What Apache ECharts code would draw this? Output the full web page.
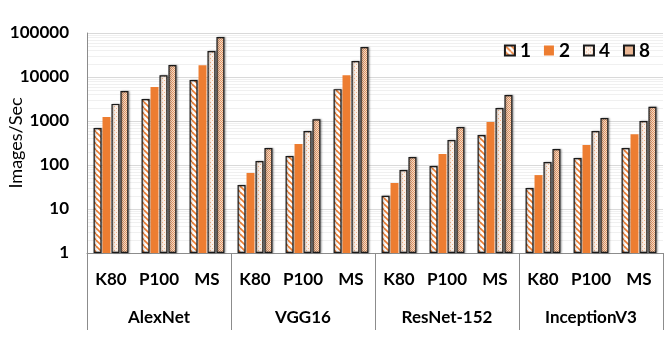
<!DOCTYPE html>
<html>
<head>
<meta charset="utf-8">
<script src="https://cdn.jsdelivr.net/npm/echarts@6/dist/echarts.min.js"></script>
<style>
  html, body { margin: 0; padding: 0; background: #fff; }
  #chart { width: 664px; height: 354px; }
</style>
</head>
<body>
<div id="chart"></div>
<script>
const gpus = ['K80', 'P100', 'MS']
const models = ['AlexNet', 'VGG16', 'ResNet-152', 'InceptionV3']
const seriesNames = ['1', '2', '4', '8']

// images/sec, one entry per (model, gpu) in order
const s1 = [690, 3150, 8500, 35, 160, 5300, 20, 95, 480, 30, 144, 243]
const s2 = [1230, 5900, 18500, 66, 300, 11000, 39, 178, 950, 59, 285, 500]
const s4 = [2450, 11000, 39000, 123, 590, 23000, 77, 370, 1980, 117, 590, 1000]
const s8 = [4800, 18700, 81000, 243, 1100, 48000, 152, 730, 3900, 230, 1170, 2100]

const yTicks = [1, 10, 100, 1000, 10000, 100000]

const categories = []
models.forEach(() => gpus.forEach(g => categories.push(g)))

const orange = '#ED7D31'

function makePattern(size, draw) {
  const c = document.createElement('canvas')
  c.width = size
  c.height = size
  draw(c.getContext('2d'), size)
  return { image: c, repeat: 'repeat' }
}

const hatch = makePattern(6, (ctx, n) => {
  ctx.fillStyle = '#fff'
  ctx.fillRect(0, 0, n, n)
  ctx.strokeStyle = orange
  ctx.lineWidth = 1.6
  ctx.beginPath()
  for (let k = -n; k <= n; k += n) {
    ctx.moveTo(k, 0)
    ctx.lineTo(k + n, n)
  }
  ctx.stroke()
})

const lightDots = makePattern(4, (ctx, n) => {
  ctx.fillStyle = '#fdf1e8'
  ctx.fillRect(0, 0, n, n)
  ctx.fillStyle = '#f3b58c'
  ctx.fillRect(0, 0, 1, 1)
  ctx.fillRect(2, 2, 1, 1)
})

const denseDots = makePattern(2, (ctx, n) => {
  ctx.fillStyle = '#f7dcc8'
  ctx.fillRect(0, 0, n, n)
  ctx.fillStyle = '#dd9363'
  ctx.fillRect(0, 0, 1, 1)
  ctx.fillRect(1, 1, 1, 1)
})

const outlined = {
  borderColor: '#1a1a1a',
  borderWidth: 1.2,
  shadowColor: 'rgba(0,0,0,0.35)',
  shadowBlur: 2,
  shadowOffsetX: 1
}

// faint log minor grid lines (2..9 in every decade)
const minorLines = []
for (let d = 1; d < 100000; d *= 10) {
  for (let m = 2; m <= 9; m++) minorLines.push({ yAxis: m * d })
}

const font = 'Lato, "Open Sans", sans-serif'

const chart = echarts.init(document.getElementById('chart'))

chart.setOption({
  animation: false,
  textStyle: { fontFamily: font },
  grid: { left: 87, right: 1, top: 33, bottom: 101, containLabel: false, outerBoundsMode: 'none' },
  legend: {
    right: 9,
    top: 36,
    icon: 'rect',
    itemWidth: 10,
    itemHeight: 10,
    itemGap: 13,
    textStyle: { fontSize: 19, fontWeight: 'bold', color: '#000', fontFamily: font },
    data: seriesNames
  },
  xAxis: [
    {
      type: 'category',
      data: categories,
      axisLine: { lineStyle: { color: '#8c8c8c' } },
      axisTick: { show: false },
      axisLabel: { interval: 0, margin: 18, fontSize: 17, fontWeight: 'bold', color: '#000' }
    },
    {
      type: 'category',
      data: models,
      position: 'bottom',
      axisLine: { show: false },
      axisTick: { show: true, length: 77, lineStyle: { color: '#8c8c8c' } },
      axisLabel: { interval: 0, margin: 56, fontSize: 17, fontWeight: 'bold', color: '#000' }
    }
  ],
  yAxis: {
    type: 'log',
    logBase: 10,
    min: yTicks[0],
    max: yTicks[yTicks.length - 1],
    name: 'Images/Sec',
    nameLocation: 'middle',
    nameGap: 62,
    nameMoveOverlap: false,
    nameTextStyle: { fontSize: 18, fontWeight: 'normal', color: '#000' },
    axisLine: { show: true, lineStyle: { color: '#8c8c8c' } },
    axisTick: { show: false },
    axisLabel: { margin: 18, fontSize: 17, fontWeight: 'bold', color: '#000', formatter: v => String(v) },
    splitLine: { lineStyle: { color: '#d9d9d9' } }
  },
  series: [
    {
      name: '1', type: 'bar', data: s1, barWidth: 8, barGap: '12%',
      itemStyle: Object.assign({ color: hatch }, outlined),
      markLine: {
        silent: true, symbol: 'none', label: { show: false },
        lineStyle: { color: '#f0f0f0', type: 'solid', width: 1 },
        data: minorLines, z: 0
      }
    },
    {
      name: '2', type: 'bar', data: s2, barWidth: 8, barGap: '12%',
      itemStyle: { color: orange }
    },
    {
      name: '4', type: 'bar', data: s4, barWidth: 8, barGap: '12%',
      itemStyle: Object.assign({ color: lightDots }, outlined)
    },
    {
      name: '8', type: 'bar', data: s8, barWidth: 8, barGap: '12%',
      itemStyle: Object.assign({ color: denseDots }, outlined)
    }
  ]
})
</script>
</body>
</html>
